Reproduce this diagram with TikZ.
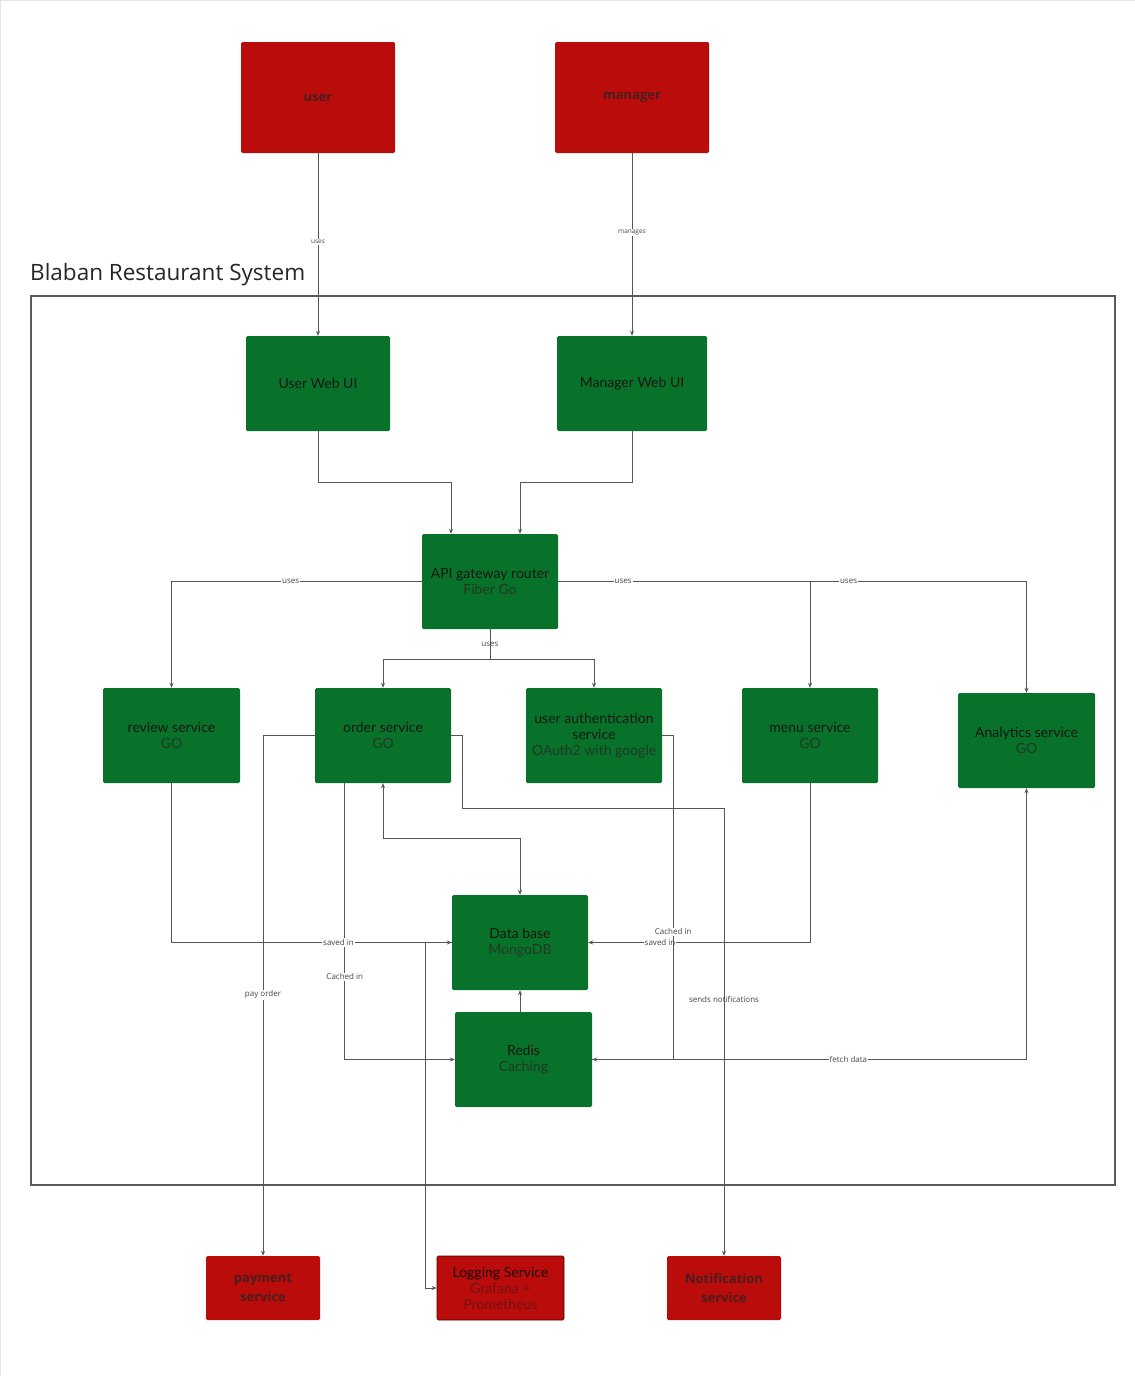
\documentclass[tikz,border=0pt]{standalone}
\usepackage{fontspec}
\setmainfont{Open Sans}
\newfontfamily\boxfont{Lato}
\usetikzlibrary{arrows.meta,calc}

\definecolor{boxred}{RGB}{187,12,12}
\definecolor{boxgreen}{RGB}{8,114,42}
\definecolor{redtext}{RGB}{72,30,30}
\definecolor{greentext}{RGB}{18,24,18}
\definecolor{greensub}{RGB}{34,56,38}
\definecolor{logsub}{RGB}{112,18,18}
\definecolor{wire}{RGB}{85,85,85}
\definecolor{lbltext}{RGB}{70,70,70}
\definecolor{framegray}{RGB}{90,90,90}

\tikzset{
  redbox/.style={rectangle, rounded corners=1.5pt, fill=boxred, inner sep=0pt,
    align=center, text=redtext, font=\fontsize{13}{19}\selectfont\bfseries},
  greenbox/.style={rectangle, rounded corners=1.5pt, fill=boxgreen, inner sep=0pt,
    align=center, text=greentext, font=\boxfont\fontsize{14}{16}\selectfont},
  conn/.style={draw=wire, line width=0.8pt, -{Stealth[length=5pt,width=4pt]}},
  lbl/.style={fill=white, inner sep=1pt, text=lbltext, font=\fontsize{8}{9}\selectfont},
  smalllbl/.style={lbl, font=\fontsize{6.5}{7}\selectfont},
}
\newcommand{\subtxt}[1]{{\color{greensub}#1}}

\begin{document}
\begin{tikzpicture}[x=1pt,y=-1pt]
\useasboundingbox (0,0) rectangle (1135,1376);
\fill[white] (0,0) rectangle (1135,1376);
\draw[black!10, line width=1pt] (0.5,1376) -- (0.5,0.5) -- (1135,0.5);

% system boundary
\draw[framegray, line width=2.5pt] (31,296) rectangle (1115,1185);
\node[anchor=west, inner sep=0pt, text=black!85, font=\fontsize{22.5}{26}\selectfont] (title) at (30,275) {Blaban Restaurant System};

% actors
\node[redbox, minimum width=154pt, minimum height=111pt] (user) at (318,97.5) {\raisebox{-2pt}{user}};
\node[redbox, minimum width=154pt, minimum height=111pt] (manager) at (632,97.5) {\raisebox{-3pt}{manager}};

% front ends
\node[greenbox, minimum width=144pt, minimum height=95pt] (uweb) at (318,383.5) {User Web UI};
\node[greenbox, minimum width=150pt, minimum height=95pt] (mweb) at (632,383.5) {Manager Web UI};

% gateway
\node[greenbox, minimum width=136pt, minimum height=95pt] (api) at (490,581.5) {API gateway router\\\subtxt{Fiber Go}};

% services
\node[greenbox, minimum width=137pt, minimum height=95pt] (rev) at (171.5,735.5) {review service\\\subtxt{GO}};
\node[greenbox, minimum width=136pt, minimum height=95pt] (ord) at (383,735.5) {order service\\\subtxt{GO}};
\node[greenbox, minimum width=136pt, minimum height=95pt] (auth) at (594,735.5) {user authentication\\service\\\subtxt{OAuth2 with google}};
\node[greenbox, minimum width=136pt, minimum height=95pt] (menu) at (810,735.5) {menu service\\\subtxt{GO}};
\node[greenbox, minimum width=137pt, minimum height=95pt] (ana) at (1026.5,740.5) {Analytics service\\\subtxt{GO}};

% storage
\node[greenbox, minimum width=136pt, minimum height=95pt] (db) at (520,942.5) {Data base\\\subtxt{MongoDB}};
\node[greenbox, minimum width=137pt, minimum height=95pt] (redis) at (523.5,1059.5) {Redis\\\subtxt{Caching}};

% external services
\node[redbox, minimum width=114pt, minimum height=64pt] (pay) at (263,1288) {payment\\service};
\node[rectangle, rounded corners=1.5pt, fill=boxred, draw=black!60!boxred, line width=0.8pt,
  minimum width=127pt, minimum height=64pt, inner sep=0pt, align=center, text=black!85!boxred,
  font=\boxfont\fontsize{14}{16}\selectfont] (log) at (500.5,1288)
  {Logging Service\\{\color{logsub}Grafana +}\\{\color{logsub}Prometheus}};
\node[redbox, minimum width=114pt, minimum height=64pt] (notif) at (724,1288) {Notification\\service};

% actors to front ends
\draw[conn] (user) -- node[smalllbl, pos=0.485] {uses} (uweb);
\draw[conn] (manager) -- node[smalllbl, pos=0.435] {manages} (mweb);

% front ends to gateway
\draw[conn] (uweb.south) -- ++(0,51.5) -| ($(api.north)+(-39,0)$);
\draw[conn] (mweb.south) -- ++(0,51.5) -| ($(api.north)+(30,0)$);

% gateway to services
\draw[conn] (api.west) -| node[lbl, pos=0.262] {uses} (rev.north);
\draw[conn] (api.east) -| node[lbl, pos=0.31] {uses} (ana.north);
\draw[conn] (api.east) -| node[lbl, pos=0.129] {uses} (menu.north);
\draw[conn] (api.south) -- node[lbl] {uses} ++(0,30) -| (ord.north);
\draw[conn] (api.south) -- ++(0,30) -| (auth.north);

% order service links
\draw[conn] ($(ord.south west)+(30,0)$) |- node[lbl, pos=0.35] {Cached in} (redis.west);
\draw[conn, {Stealth[length=5pt,width=4pt]}-{Stealth[length=5pt,width=4pt]}]
  (db.north) -- ++(0,-56) -| (ord.south);
\draw[conn] (rev.south) |- node[lbl, pos=0.798] {saved in} (db.west);
\draw[conn] (ord.west) -| node[lbl, pos=0.749] {pay order} (pay.north);
\draw[conn] (ord.east) -- ++(11,0) -- ++(0,72.5) -| node[pos=0.714, inner sep=1pt, text=lbltext, font=\fontsize{8}{9}\selectfont] {sends notifications} (notif.north);

% storage links
\draw[conn] (menu.south) |- node[lbl, pos=0.838] {saved in} (db.east);
\draw[conn] (auth.east) -- ++(11,0) |- node[lbl, pos=0.303] {Cached in} (redis.east);
\draw[conn] (redis.east) -| node[lbl, pos=0.295] {fetch data} (ana.south);
\draw[conn] (db.south |- redis.north) -- (db.south);
\draw[conn] (db.west) -- ++(-26,0) |- (log.west);
\end{tikzpicture}
\end{document}
